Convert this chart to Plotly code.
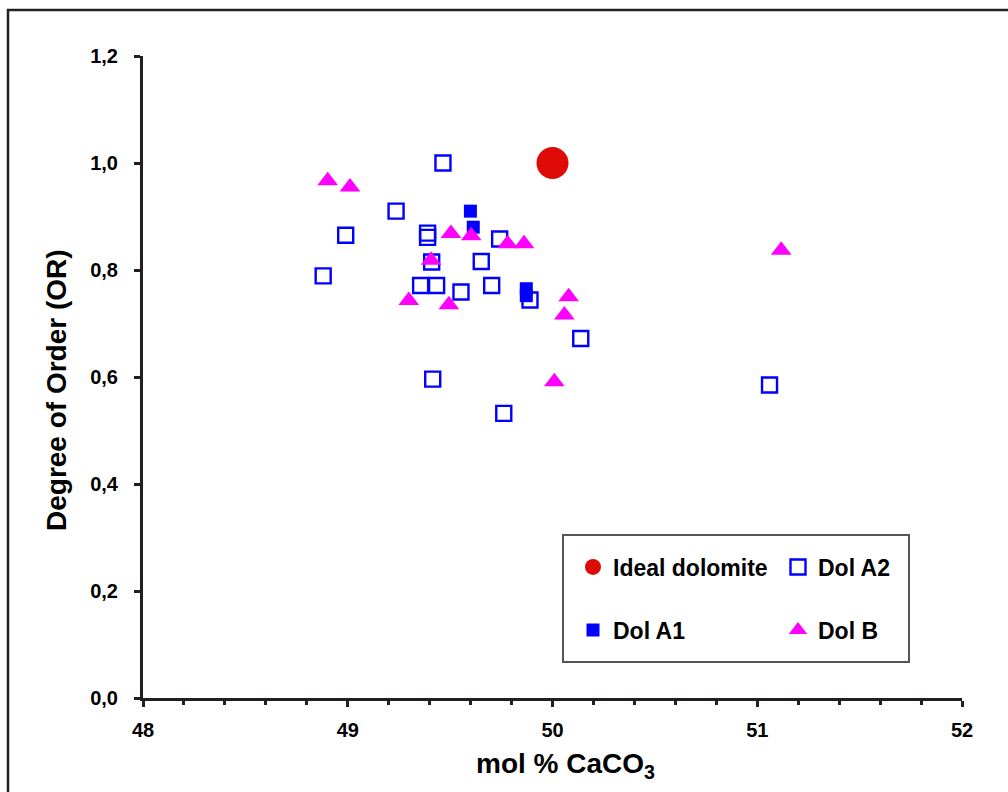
import plotly.graph_objects as go

# ---- data ----
ideal_x = [50.0]
ideal_y = [1.0]

a2_x = [49.465, 49.236, 48.99, 48.88, 49.39, 49.39, 49.41, 49.356, 49.434, 49.553,
        49.703, 49.652, 49.742, 49.89, 50.138, 49.415, 49.762, 51.06]
a2_y = [1.0, 0.910, 0.865, 0.789, 0.869, 0.861, 0.815, 0.771, 0.771, 0.759,
        0.771, 0.816, 0.858, 0.744, 0.672, 0.596, 0.532, 0.585]

a1_x = [49.599, 49.613, 49.872, 49.872]
a1_y = [0.910, 0.880, 0.765, 0.752]

b_x = [48.902, 49.011, 49.504, 49.603, 49.781, 49.861, 49.407, 49.298, 49.494,
       50.079, 50.058, 50.009, 51.117]
b_y = [0.967, 0.955, 0.868, 0.864, 0.849, 0.849, 0.818, 0.743, 0.735,
       0.750, 0.716, 0.591, 0.837]

x_range = [48, 52]
y_range = [0, 1.2]

FONT = "Liberation Sans, Arial, Helvetica, sans-serif"
AX = "#231f20"

fig = go.Figure()
fig.add_trace(go.Scatter(x=a2_x, y=a2_y, mode="markers", name="Dol A2",
                         legend="legend", legendrank=2,
                         marker=dict(symbol="square-open", size=15, color="#0000ff",
                                     line=dict(width=2.4, color="#0000ff"))))
fig.add_trace(go.Scatter(x=a1_x, y=a1_y, mode="markers", name="Dol A1",
                         legend="legend2", legendrank=1,
                         marker=dict(symbol="square", size=13, color="#0000ff",
                                     line=dict(width=0))))
fig.add_trace(go.Scatter(x=b_x, y=b_y, mode="markers", name="Dol B",
                         legend="legend2", legendrank=2,
                         marker=dict(symbol="triangle-up", size=18, color="#ff00ff",
                                     line=dict(width=0))))
fig.add_trace(go.Scatter(x=ideal_x, y=ideal_y, mode="markers", name="Ideal dolomite",
                         legend="legend", legendrank=1,
                         marker=dict(symbol="circle", size=32, color="#dd0a05",
                                     line=dict(width=0))))

pw = 962 - 143
ph = 698 - 56

def px(x):
    return (x - 143) / pw

def py(y):
    return (698 - y) / ph

legend_common = dict(orientation="h", xanchor="left", yanchor="middle",
                     bgcolor="rgba(0,0,0,0)", borderwidth=0,
                     font=dict(family=FONT, size=23, color="#000", weight="bold"),
                     entrywidth=160, entrywidthmode="pixels", itemsizing="trace",
                     traceorder="normal")

fig.update_layout(
    width=1008, height=792,
    margin=dict(l=143, r=46, t=56, b=94),
    paper_bgcolor="white", plot_bgcolor="white",
    separators=",.",
    font=dict(family=FONT, color="#000"),
    xaxis=dict(range=x_range, showgrid=False, zeroline=False,
               showline=True, linecolor=AX, linewidth=3,
               ticks="outside", ticklen=6, tickwidth=3, tickcolor=AX,
               dtick=1, tick0=48, ticklabelstandoff=6,
               minor=dict(dtick=0.2, ticks="outside", ticklen=4, tickwidth=3, tickcolor=AX),
               tickfont=dict(family=FONT, size=20, color="#000", weight="bold")),
    yaxis=dict(range=y_range, showgrid=False, zeroline=False,
               showline=True, linecolor=AX, linewidth=3,
               ticks="outside", ticklen=6, tickwidth=3, tickcolor=AX,
               dtick=0.2, tick0=0, tickformat=".1f", ticklabelstandoff=12,
               tickfont=dict(family=FONT, size=20, color="#000", weight="bold")),
    showlegend=True,
    legend=dict(x=px(573), y=py(567), **legend_common),
    legend2=dict(x=px(573), y=py(630), **legend_common),
    shapes=[
        # outer frame
        dict(type="rect", xref="paper", yref="paper",
             x0=px(8), x1=px(1030), y0=py(820), y1=py(10),
             line=dict(color="#222", width=2.5), fillcolor="rgba(0,0,0,0)", layer="below"),
        # legend box
        dict(type="rect", xref="paper", yref="paper",
             x0=px(563), x1=px(909), y0=py(662), y1=py(535),
             line=dict(color="#555", width=2), fillcolor="white", layer="below"),
    ],
    annotations=[
        dict(text="mol % CaCO<sub>3</sub>", xref="paper", yref="paper",
             x=px(565), y=py(765), xanchor="center", yanchor="middle", showarrow=False,
             font=dict(family=FONT, size=28, color="#000", weight="bold")),
        dict(text="Degree of Order (OR)", xref="paper", yref="paper",
             x=px(57), y=py(390), xanchor="center", yanchor="middle", showarrow=False,
             textangle=-90,
             font=dict(family=FONT, size=28, color="#000", weight="bold")),
    ],
)

fig.write_html("out.html")
